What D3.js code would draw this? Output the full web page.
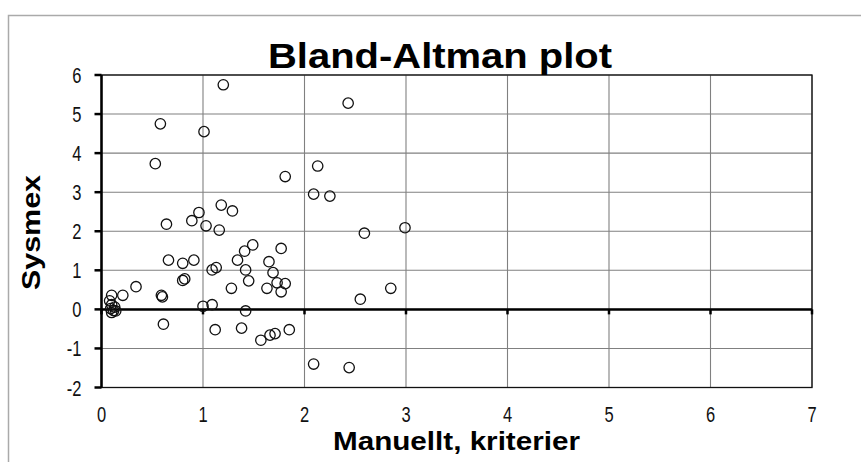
<!DOCTYPE html>
<html>
<head>
<meta charset="utf-8">
<script src="https://cdn.jsdelivr.net/npm/d3@7"></script>
<style>
  body { margin: 0; background: #fff; }
  svg { display: block; font-family: "Liberation Sans", Arial, sans-serif; }
</style>
</head>
<body>
<svg id="chart" width="861" height="462"></svg>
<script>
const title = 'Bland-Altman plot';
const xLabel = 'Manuellt, kriterier';
const yLabel = 'Sysmex';
const xTicks = [0, 1, 2, 3, 4, 5, 6, 7];
const yTicks = [-2, -1, 0, 1, 2, 3, 4, 5, 6];

// mean (manual) and difference values
const manual = [
  1.20, 0.58, 1.01, 0.53, 1.81, 2.43, 2.13, 2.09, 2.25, 2.59, 2.99, 2.85, 2.55, 2.09, 2.44, 1.85,
  0.64, 0.89, 0.96, 1.03, 1.18, 1.29, 1.16, 0.66, 0.80, 0.91, 0.80, 0.82, 0.34, 0.59, 0.60,
  1.09, 1.13, 1.28, 1.34, 1.41, 1.49, 1.42, 1.45, 1.65, 1.69, 1.77, 1.63, 1.73, 1.81, 1.77,
  1.00, 1.09, 1.42, 0.61, 1.12, 1.38, 1.57, 1.66, 1.71,
  0.10, 0.21, 0.08, 0.10, 0.09, 0.12, 0.10, 0.14, 0.13
];
const sysmex = [
  5.75, 4.75, 4.55, 3.73, 3.40, 5.28, 3.67, 2.95, 2.90, 1.95, 2.09, 0.54, 0.26, -1.40, -1.49, -0.52,
  2.18, 2.27, 2.48, 2.14, 2.67, 2.52, 2.03, 1.26, 1.18, 1.26, 0.74, 0.78, 0.58, 0.36, 0.32,
  1.01, 1.07, 0.54, 1.26, 1.49, 1.65, 1.01, 0.73, 1.22, 0.94, 1.56, 0.54, 0.68, 0.66, 0.45,
  0.08, 0.12, -0.04, -0.38, -0.52, -0.48, -0.79, -0.66, -0.62,
  0.36, 0.36, 0.22, 0.12, 0.02, -0.03, -0.08, -0.04, 0.06
];

const svg = d3.select('#chart');
const margin = {top: 75, right: 49, bottom: 74.5, left: 101.5};
const width = +svg.attr('width') - margin.left - margin.right;
const height = +svg.attr('height') - margin.top - margin.bottom;

// outer chart frame
svg.append('path')
  .attr('d', 'M8.5,462 V15.5 H861')
  .attr('fill', 'none')
  .attr('stroke', '#aaa')
  .attr('stroke-width', 1.5);

const x = d3.scaleLinear().domain([0, 7]).range([0, width]);
const y = d3.scaleLinear().domain([-2, 6]).range([height, 0]);

const g = svg.append('g').attr('transform', 'translate(' + margin.left + ',' + margin.top + ')');

// grid
g.append('g')
  .selectAll('line')
  .data(yTicks)
  .enter().append('line')
  .attr('x1', 0).attr('x2', width)
  .attr('y1', d => y(d)).attr('y2', d => y(d))
  .attr('stroke', '#808080').attr('stroke-width', 1.1);

g.append('g')
  .selectAll('line')
  .data(xTicks)
  .enter().append('line')
  .attr('x1', d => x(d)).attr('x2', d => x(d))
  .attr('y1', 0).attr('y2', height)
  .attr('stroke', '#808080').attr('stroke-width', 1.1);

// plot border
g.append('rect')
  .attr('width', width).attr('height', height)
  .attr('fill', 'none')
  .attr('stroke', '#111').attr('stroke-width', 1.3);

// y axis (left, thick)
g.append('line')
  .attr('x1', 0).attr('x2', 0).attr('y1', 0).attr('y2', height)
  .attr('stroke', '#000').attr('stroke-width', 2.5);
g.append('g')
  .selectAll('line')
  .data(yTicks)
  .enter().append('line')
  .attr('x1', -7).attr('x2', 0)
  .attr('y1', d => y(d)).attr('y2', d => y(d))
  .attr('stroke', '#000').attr('stroke-width', 2.5);

// x axis at zero
g.append('line')
  .attr('x1', 0).attr('x2', width).attr('y1', y(0)).attr('y2', y(0))
  .attr('stroke', '#000').attr('stroke-width', 2.5);
g.append('g')
  .selectAll('line')
  .data(xTicks)
  .enter().append('line')
  .attr('x1', d => x(d)).attr('x2', d => x(d))
  .attr('y1', y(0)).attr('y2', y(0) + 5)
  .attr('stroke', '#000').attr('stroke-width', 2.5);

// tick labels
g.append('g')
  .selectAll('text')
  .data(yTicks)
  .enter().append('text')
  .attr('transform', d => 'translate(-20,' + (y(d) + 8) + ') scale(0.75,1)')
  .attr('text-anchor', 'end')
  .style('font-size', '22px')
  .attr('fill', '#111')
  .text(d => d);

g.append('g')
  .selectAll('text')
  .data(xTicks)
  .enter().append('text')
  .attr('transform', d => 'translate(' + x(d) + ',' + (height + 34) + ') scale(0.75,1)')
  .attr('text-anchor', 'middle')
  .style('font-size', '22px')
  .attr('fill', '#111')
  .text(d => d);

// points
g.selectAll('.dot')
  .data(manual.map((m, i) => [m, sysmex[i]]))
  .enter().append('circle')
  .attr('class', 'dot')
  .attr('cx', d => x(d[0]))
  .attr('cy', d => y(d[1]))
  .attr('r', 5.2)
  .attr('fill', 'none')
  .attr('stroke', '#111')
  .attr('stroke-width', 1.3);

// titles
svg.append('text')
  .attr('x', 268).attr('y', 68)
  .attr('textLength', 344).attr('lengthAdjust', 'spacingAndGlyphs')
  .style('font-size', '35px').style('font-weight', 'bold')
  .attr('fill', '#000')
  .text(title);

svg.append('text')
  .attr('x', 333).attr('y', 450)
  .attr('textLength', 247).attr('lengthAdjust', 'spacingAndGlyphs')
  .style('font-size', '25px').style('font-weight', 'bold')
  .attr('fill', '#000')
  .text(xLabel);

svg.append('text')
  .attr('transform', 'translate(40,290) rotate(-90)')
  .attr('textLength', 115).attr('lengthAdjust', 'spacingAndGlyphs')
  .style('font-size', '25px').style('font-weight', 'bold')
  .attr('fill', '#000')
  .text(yLabel);
</script>
</body>
</html>
